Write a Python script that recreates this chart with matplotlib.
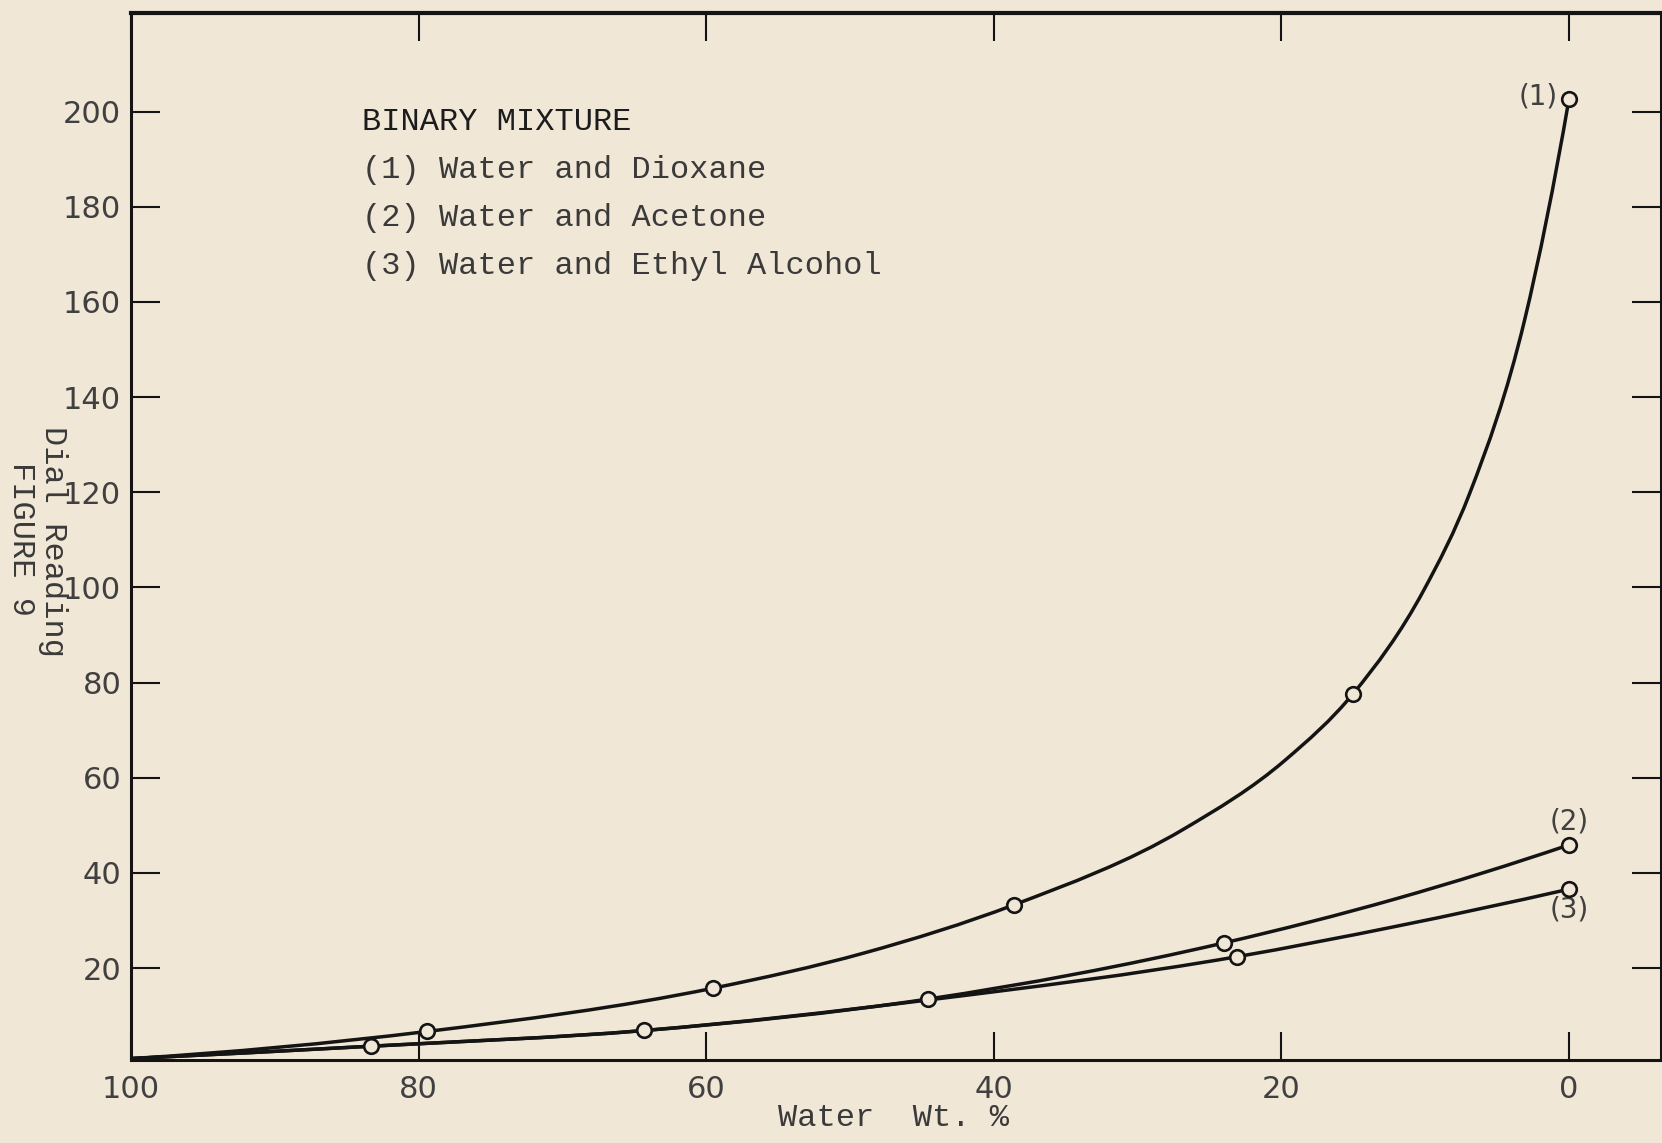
import numpy as np
import matplotlib
matplotlib.use("Agg")
import matplotlib.pyplot as plt
from matplotlib.path import Path
from matplotlib.patches import PathPatch

# values (x = water wt. %, y = dial reading)
dioxane_pts_x = [79.4, 59.5, 38.6, 15.0, 0.0]
dioxane_pts_y = [6.7, 15.8, 33.3, 77.7, 202.6]
acetone_pts_x = [83.3, 44.6, 24.0, 0.0]
acetone_pts_y = [3.6, 13.5, 25.3, 45.9]
ethanol_pts_x = [64.3, 23.1, 0.0]
ethanol_pts_y = [6.9, 22.4, 36.6]

# the hand-drawn curves, traced at a few extra places
dioxane_curve_x = [100.0, 79.4, 59.5, 49.0, 38.6, 26.8, 19.7, 15.0, 10.1, 6.9, 3.1, 0.0]
dioxane_curve_y = [1.0, 6.7, 15.8, 23.2, 33.3, 49.2, 63.8, 77.7, 99.4, 119.8, 156.0, 202.6]
acetone_curve_x = [100.0, 83.3, 64.3, 44.6, 24.0, 12.0, 0.0]
acetone_curve_y = [1.0, 3.6, 6.9, 13.5, 25.3, 34.6, 45.9]
ethanol_curve_x = [100.0, 83.3, 64.3, 44.6, 23.1, 12.0, 0.0]
ethanol_curve_y = [1.0, 3.6, 6.9, 13.3, 22.4, 28.8, 36.6]

x_ticks = [100, 80, 60, 40, 20, 0]
y_ticks = [20, 40, 60, 80, 100, 120, 140, 160, 180, 200]
legend_title = "BINARY MIXTURE"
legend_lines = ["(1) Water and Dioxane",
                "(2) Water and Acetone",
                "(3) Water and Ethyl Alcohol"]

PAPER = "#f1e7d7"
INK = "#141414"
TYPE = "Liberation Mono"


def smooth_path(xs, ys):
    # cubic hermite through the traced points (three-point slopes), as bezier segments
    x = np.asarray(xs, float)
    y = np.asarray(ys, float)
    order = np.argsort(x)
    x, y = x[order], y[order]
    h = np.diff(x)
    d = np.diff(y) / h
    m = np.zeros_like(x)
    m[0] = ((2 * h[0] + h[1]) * d[0] - h[0] * d[1]) / (h[0] + h[1])
    m[-1] = ((2 * h[-1] + h[-2]) * d[-1] - h[-1] * d[-2]) / (h[-1] + h[-2])
    for k in range(1, len(x) - 1):
        m[k] = (h[k] * d[k - 1] + h[k - 1] * d[k]) / (h[k - 1] + h[k])
    verts = [(x[0], y[0])]
    codes = [Path.MOVETO]
    for k in range(len(h)):
        verts += [(x[k] + h[k] / 3, y[k] + m[k] * h[k] / 3),
                  (x[k + 1] - h[k] / 3, y[k + 1] - m[k + 1] * h[k] / 3),
                  (x[k + 1], y[k + 1])]
        codes += [Path.CURVE4] * 3
    return Path(verts, codes)


plt.rcParams['font.family'] = ['DejaVu Sans']

fig = plt.figure(figsize=(16.62, 11.43), dpi=100, facecolor=PAPER)
ax = fig.add_axes([131 / 1662, 83 / 1143, 1530 / 1662, 1047 / 1143])
ax.set_facecolor(PAPER)

for cx, cy in [(dioxane_curve_x, dioxane_curve_y),
               (acetone_curve_x, acetone_curve_y),
               (ethanol_curve_x, ethanol_curve_y)]:
    ax.add_patch(PathPatch(smooth_path(cx, cy), fill=False, lw=2.5,
                           ec=INK, capstyle='round', zorder=3))

for px, py in [(dioxane_pts_x, dioxane_pts_y),
               (acetone_pts_x, acetone_pts_y),
               (ethanol_pts_x, ethanol_pts_y)]:
    ax.plot(px, py, 'o', ms=10.5, mfc=PAPER, mec=INK, mew=1.9, zorder=4)

ax.set_xlim(100, -6.4)
ax.set_ylim(0.7, 220.7)

ax.set_xticks(x_ticks)
ax.set_xticklabels([str(v) for v in x_ticks])
ax.set_yticks(y_ticks)
ax.set_yticklabels([str(v) for v in y_ticks])
ax.tick_params(axis='x', direction='in', length=20, width=1.5, color=INK,
               top=True, bottom=True, labelsize=22, labelcolor='#404040', pad=11)
ax.tick_params(axis='y', direction='in', length=21, width=1.5, color=INK,
               left=True, right=True, labelsize=22, labelcolor='#404040', pad=7)

for side, w in [('left', 2.2), ('bottom', 2.2), ('right', 2.2), ('top', 3.0)]:
    ax.spines[side].set_linewidth(w)
    ax.spines[side].set_color(INK)

# curve numbers next to the end points
ax.annotate("(1)", (dioxane_pts_x[-1], dioxane_pts_y[-1]), xytext=(-8, 2),
            textcoords='offset points', ha='right', va='center',
            fontsize=20, color='#404040')
ax.annotate("(2)", (acetone_pts_x[-1], acetone_pts_y[-1]), xytext=(0, 17),
            textcoords='offset points', ha='center', va='center',
            fontsize=20, color='#404040')
ax.annotate("(3)", (ethanol_pts_x[-1], ethanol_pts_y[-1]), xytext=(0, -15),
            textcoords='offset points', ha='center', va='center',
            fontsize=20, color='#404040')

# typed key
ax.text(0.151, 0.896, legend_title, transform=ax.transAxes, family=TYPE,
        fontsize=23, color='#1c1c1c', va='center', ha='left')
for i, line in enumerate(legend_lines):
    ax.text(0.151, 0.850 - 0.0458 * i, line, transform=ax.transAxes,
            family=TYPE, fontsize=23, color='#3a3a3a', va='center', ha='left')

fig.text(893 / 1662, 1 - 1118 / 1143, "Water  Wt. %", family=TYPE,
         fontsize=23, color='#3a3a3a', ha='center', va='center')
fig.text(53 / 1662, 1 - 542 / 1143, "Dial Reading", family=TYPE,
         fontsize=23, color='#3a3a3a', ha='center', va='center', rotation=270)
fig.text(21 / 1662, 1 - 539 / 1143, "FIGURE 9", family=TYPE,
         fontsize=23, color='#3a3a3a', ha='center', va='center', rotation=270)

fig.savefig("out.png", dpi=100, facecolor=PAPER)
